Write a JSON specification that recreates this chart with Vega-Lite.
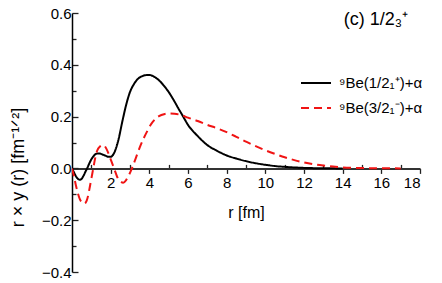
{
  "$schema": "https://vega.github.io/schema/vega-lite/v6.json",
  "autosize": "none",
  "width": 348,
  "height": 259,
  "padding": {"left": 72, "top": 13, "right": 22, "bottom": 11},
  "background": "white",
  "title": {"text": "(c) 1/2₃⁺", "anchor": "end", "frame": "group", "orient": "top", "offset": -32, "baseline": "middle", "dx": -12, "fontSize": 18, "fontWeight": "normal", "font": "Liberation Sans", "color": "#000"},
  "config": {
    "view": {"stroke": null},
    "font": "Liberation Sans",
    "axis": {"labelFont": "Liberation Sans", "titleFont": "Liberation Sans", "grid": false, "labelColor": "#000", "titleColor": "#000", "tickColor": "#000", "domainColor": "#000"}
  },
  "data": {
    "values": [
      {"r": 0, "v": 0, "s": "A"},
      {"r": 0.1, "v": -0.015, "s": "A"},
      {"r": 0.2, "v": -0.03, "s": "A"},
      {"r": 0.3, "v": -0.04, "s": "A"},
      {"r": 0.4, "v": -0.044, "s": "A"},
      {"r": 0.5, "v": -0.04, "s": "A"},
      {"r": 0.6, "v": -0.028, "s": "A"},
      {"r": 0.7, "v": -0.012, "s": "A"},
      {"r": 0.8, "v": 0.003, "s": "A"},
      {"r": 0.9, "v": 0.02, "s": "A"},
      {"r": 1.0, "v": 0.035, "s": "A"},
      {"r": 1.1, "v": 0.046, "s": "A"},
      {"r": 1.2, "v": 0.054, "s": "A"},
      {"r": 1.35, "v": 0.058, "s": "A"},
      {"r": 1.5, "v": 0.056, "s": "A"},
      {"r": 1.7, "v": 0.05, "s": "A"},
      {"r": 1.9, "v": 0.045, "s": "A"},
      {"r": 2.0, "v": 0.045, "s": "A"},
      {"r": 2.1, "v": 0.05, "s": "A"},
      {"r": 2.2, "v": 0.063, "s": "A"},
      {"r": 2.4, "v": 0.11, "s": "A"},
      {"r": 2.6, "v": 0.18, "s": "A"},
      {"r": 2.8, "v": 0.245, "s": "A"},
      {"r": 3.0, "v": 0.295, "s": "A"},
      {"r": 3.2, "v": 0.325, "s": "A"},
      {"r": 3.4, "v": 0.345, "s": "A"},
      {"r": 3.6, "v": 0.355, "s": "A"},
      {"r": 3.8, "v": 0.36, "s": "A"},
      {"r": 4.0, "v": 0.361, "s": "A"},
      {"r": 4.2, "v": 0.356, "s": "A"},
      {"r": 4.5, "v": 0.34, "s": "A"},
      {"r": 4.8, "v": 0.315, "s": "A"},
      {"r": 5.0, "v": 0.295, "s": "A"},
      {"r": 5.25, "v": 0.265, "s": "A"},
      {"r": 5.5, "v": 0.232, "s": "A"},
      {"r": 5.75, "v": 0.2, "s": "A"},
      {"r": 6.0, "v": 0.168, "s": "A"},
      {"r": 6.5, "v": 0.125, "s": "A"},
      {"r": 7.0, "v": 0.09, "s": "A"},
      {"r": 7.5, "v": 0.068, "s": "A"},
      {"r": 8.0, "v": 0.05, "s": "A"},
      {"r": 8.5, "v": 0.038, "s": "A"},
      {"r": 9.0, "v": 0.028, "s": "A"},
      {"r": 9.5, "v": 0.02, "s": "A"},
      {"r": 10.0, "v": 0.014, "s": "A"},
      {"r": 10.5, "v": 0.009, "s": "A"},
      {"r": 11.0, "v": 0.006, "s": "A"},
      {"r": 12.0, "v": 0.002, "s": "A"},
      {"r": 13.0, "v": 0.0005, "s": "A"},
      {"r": 14.0, "v": 0.0, "s": "A"},
      {"r": 0, "v": 0, "s": "B"},
      {"r": 0.1, "v": -0.03, "s": "B"},
      {"r": 0.2, "v": -0.065, "s": "B"},
      {"r": 0.3, "v": -0.095, "s": "B"},
      {"r": 0.4, "v": -0.118, "s": "B"},
      {"r": 0.5, "v": -0.13, "s": "B"},
      {"r": 0.65, "v": -0.135, "s": "B"},
      {"r": 0.8, "v": -0.115, "s": "B"},
      {"r": 0.9, "v": -0.08, "s": "B"},
      {"r": 1.0, "v": -0.04, "s": "B"},
      {"r": 1.1, "v": 0.0, "s": "B"},
      {"r": 1.2, "v": 0.04, "s": "B"},
      {"r": 1.3, "v": 0.068, "s": "B"},
      {"r": 1.45, "v": 0.085, "s": "B"},
      {"r": 1.6, "v": 0.09, "s": "B"},
      {"r": 1.75, "v": 0.08, "s": "B"},
      {"r": 1.9, "v": 0.055, "s": "B"},
      {"r": 2.05, "v": 0.025, "s": "B"},
      {"r": 2.2, "v": -0.005, "s": "B"},
      {"r": 2.35, "v": -0.035, "s": "B"},
      {"r": 2.5, "v": -0.05, "s": "B"},
      {"r": 2.65, "v": -0.055, "s": "B"},
      {"r": 2.8, "v": -0.045, "s": "B"},
      {"r": 2.95, "v": -0.025, "s": "B"},
      {"r": 3.1, "v": 0.0, "s": "B"},
      {"r": 3.3, "v": 0.04, "s": "B"},
      {"r": 3.5, "v": 0.08, "s": "B"},
      {"r": 3.7, "v": 0.115, "s": "B"},
      {"r": 3.9, "v": 0.145, "s": "B"},
      {"r": 4.1, "v": 0.172, "s": "B"},
      {"r": 4.3, "v": 0.19, "s": "B"},
      {"r": 4.5, "v": 0.202, "s": "B"},
      {"r": 4.8, "v": 0.21, "s": "B"},
      {"r": 5.0, "v": 0.212, "s": "B"},
      {"r": 5.3, "v": 0.211, "s": "B"},
      {"r": 5.6, "v": 0.207, "s": "B"},
      {"r": 6.0, "v": 0.196, "s": "B"},
      {"r": 6.5, "v": 0.183, "s": "B"},
      {"r": 7.0, "v": 0.168, "s": "B"},
      {"r": 7.5, "v": 0.155, "s": "B"},
      {"r": 8.0, "v": 0.14, "s": "B"},
      {"r": 8.5, "v": 0.122, "s": "B"},
      {"r": 9.0, "v": 0.103, "s": "B"},
      {"r": 9.5, "v": 0.086, "s": "B"},
      {"r": 10.0, "v": 0.07, "s": "B"},
      {"r": 10.5, "v": 0.056, "s": "B"},
      {"r": 11.0, "v": 0.043, "s": "B"},
      {"r": 11.5, "v": 0.032, "s": "B"},
      {"r": 12.0, "v": 0.023, "s": "B"},
      {"r": 12.5, "v": 0.016, "s": "B"},
      {"r": 13.0, "v": 0.011, "s": "B"},
      {"r": 13.5, "v": 0.007, "s": "B"},
      {"r": 14.0, "v": 0.004, "s": "B"},
      {"r": 15.0, "v": 0.0015, "s": "B"},
      {"r": 16.0, "v": 0.0005, "s": "B"},
      {"r": 17.0, "v": 0.0, "s": "B"}
    ]
  },
  "mark": {"type": "line", "strokeWidth": 2, "interpolate": "monotone", "clip": true},
  "encoding": {
    "x": {
      "field": "r", "type": "quantitative",
      "scale": {"domain": [0, 18], "nice": false},
      "axis": {
        "values": [0,1,2,3,4,5,6,7,8,9,10,11,12,13,14,15,16,17,18],
        "labelExpr": "datum.value % 2 == 0 && datum.value > 0 ? datum.label : ''",
        "labelOverlap": false,
        "domain": true,
        "domainWidth": 2,
        "domainColor": "#333",
        "ticks": true,
        "offset": -103.6,
        "tickSize": {"condition": {"test": "datum.value % 2 == 0", "value": 5}, "value": -4},
        "tickWidth": 1.3,
        "tickColor": "#222",
        "labelPadding": 2,
        "labelFontSize": 15,
        "title": "r [fm]",
        "titleFontSize": 16,
        "titleFontWeight": "normal",
        "titlePadding": 14
      }
    },
    "y": {
      "field": "v", "type": "quantitative",
      "scale": {"domain": [-0.4, 0.6], "nice": false},
      "axis": {
        "values": [-0.4,-0.3,-0.2,-0.1,0,0.1,0.2,0.3,0.4,0.5,0.6],
        "labelExpr": "abs(round(datum.value*10)) % 2 == 0 ? format(datum.value, '.1f') : ''",
        "labelOverlap": false,
        "ticks": true,
        "tickSize": {"condition": {"test": "abs(round(datum.value*10)) % 2 == 0", "value": -6}, "value": -4},
        "tickWidth": 1.3,
        "tickColor": "#222",
        "domainWidth": 1.5,
        "labelPadding": 7,
        "labelFontSize": 15,
        "title": "r × y (r) [fm⁻¹ᐟ²]",
        "titleFontSize": 18,
        "titleFontWeight": "normal",
        "titleBaseline": "middle",
        "titleX": -54,
        "titleY": 154
      }
    },
    "color": {
      "field": "s", "type": "nominal",
      "scale": {"domain": ["A", "B"], "range": ["#000000", "#f01414"]},
      "legend": {
        "title": null,
        "orient": "none",
        "legendX": 228,
        "legendY": 54,
        "symbolType": "stroke",
        "symbolSize": 900,
        "symbolStrokeWidth": 2,
        "labelFontSize": 15,
        "labelFont": "Liberation Sans",
        "labelColor": "#000",
        "labelOffset": 7,
        "rowPadding": 1,
        "labelExpr": "datum.value == 'A' ? '⁹Be(1/2₁⁺)+α' : '⁹Be(3/2₁⁻)+α'"
      }
    },
    "strokeDash": {
      "field": "s", "type": "nominal",
      "scale": {"domain": ["A", "B"], "range": [[1, 0], [8, 5]]},
      "legend": {
        "title": null,
        "orient": "none",
        "legendX": 228,
        "legendY": 54,
        "symbolType": "stroke",
        "symbolSize": 900,
        "symbolStrokeWidth": 2,
        "labelFontSize": 15,
        "labelFont": "Liberation Sans",
        "labelColor": "#000",
        "labelOffset": 7,
        "rowPadding": 1,
        "labelExpr": "datum.value == 'A' ? '⁹Be(1/2₁⁺)+α' : '⁹Be(3/2₁⁻)+α'"
      }
    }
  }
}
